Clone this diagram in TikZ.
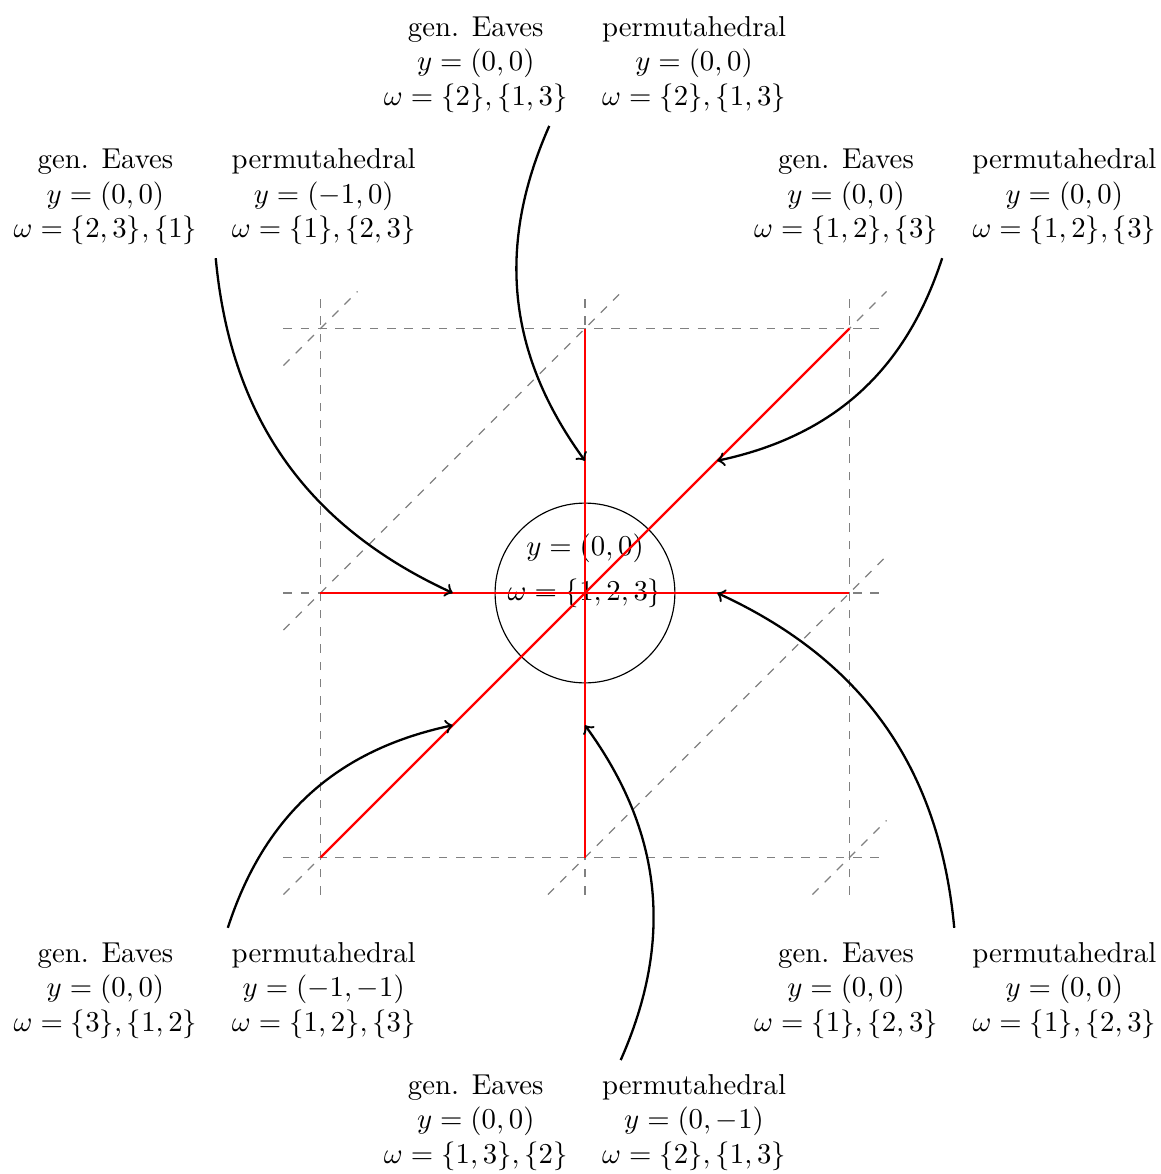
\documentclass[tikz,border=0pt]{standalone}
\begin{document}
\begin{tikzpicture}[x=91.94pt,y=91.94pt,
  gridline/.style={dashed, gray, thin},
  redline/.style={red, thick},
  conn/.style={->, thick, black},
  lbl/.style={inner sep=3.33pt}
]
\useasboundingbox (-2.2117,-2.1966) rectangle (2.1777,2.2420);
% dashed grid
\foreach \k in {-1,0,1} {
  \draw[gridline] (-1.14,\k) -- (1.14,\k);
  \draw[gridline] (\k,-1.14) -- (\k,1.14);
}
\draw[gridline] (-1.14,0.86) -- (-0.86,1.14);
\draw[gridline] (-1.14,-0.14) -- (0.14,1.14);
\draw[gridline] (-1.14,-1.14) -- (1.14,1.14);
\draw[gridline] (-0.14,-1.14) -- (1.14,0.14);
\draw[gridline] (0.86,-1.14) -- (1.14,-0.86);
% centre
\node[draw, circle, minimum size=62.5pt, inner sep=0pt] (ctr) at (0,0) {};
\node (cy) at (0,0.17) {$y=(0,0)$};
\node (cw) at (0,0) {$\omega=\{1,2,3\}$};
% red lines
\coordinate (W) at (-1,0); \coordinate (E) at (1,0);
\coordinate (S) at (0,-1); \coordinate (N) at (0,1);
\coordinate (SW) at (-1,-1); \coordinate (NE) at (1,1);
\draw[redline] (W) -- (E);
\draw[redline] (S) -- (N);
\draw[redline] (SW) -- (NE);
% targets
\coordinate (ttop) at (0,0.5);
\coordinate (ttl) at (-0.5,0);
\coordinate (ttr) at (0.5,0.5);
\coordinate (tbl) at (-0.5,-0.5);
\coordinate (tbr) at (0.5,0);
\coordinate (tbot) at (0,-0.5);
% labels
\node[lbl] (Ltop) at (0,2) {\begin{tabular}{cc}
gen. Eaves & permutahedral \\
$y=(0,0)$ & $y=(0,0)$ \\
$\omega=\{2\},\{1,3\}$ & $\omega=\{2\},\{1,3\}$
\end{tabular}};
\node[lbl] (Ltl) at (-1.4,1.5) {\begin{tabular}{cc}
gen. Eaves & permutahedral \\
$y=(0,0)$ & $y=(-1,0)$ \\
$\omega=\{2,3\},\{1\}$ & $\omega=\{1\},\{2,3\}$
\end{tabular}};
\node[lbl] (Ltr) at (1.4,1.5) {\begin{tabular}{cc}
gen. Eaves & permutahedral \\
$y=(0,0)$ & $y=(0,0)$ \\
$\omega=\{1,2\},\{3\}$ & $\omega=\{1,2\},\{3\}$
\end{tabular}};
\node[lbl] (Lbl) at (-1.4,-1.5) {\begin{tabular}{cc}
gen. Eaves & permutahedral \\
$y=(0,0)$ & $y=(-1,-1)$ \\
$\omega=\{3\},\{1,2\}$ & $\omega=\{1,2\},\{3\}$
\end{tabular}};
\node[lbl] (Lbr) at (1.4,-1.5) {\begin{tabular}{cc}
gen. Eaves & permutahedral \\
$y=(0,0)$ & $y=(0,0)$ \\
$\omega=\{1\},\{2,3\}$ & $\omega=\{1\},\{2,3\}$
\end{tabular}};
\node[lbl] (Lbot) at (0,-2) {\begin{tabular}{cc}
gen. Eaves & permutahedral \\
$y=(0,0)$ & $y=(0,-1)$ \\
$\omega=\{1,3\},\{2\}$ & $\omega=\{2\},\{1,3\}$
\end{tabular}};
% arrows
\draw[conn] (Ltop) to[bend right=30] (ttop);
\draw[conn] (Ltl) to[bend right=30] (ttl);
\draw[conn] (Ltr) to[bend left=30] (ttr);
\draw[conn] (Lbl) to[bend left=30] (tbl);
\draw[conn] (Lbr) to[bend right=30] (tbr);
\draw[conn] (Lbot) to[bend right=30] (tbot);
\end{tikzpicture}
\end{document}
